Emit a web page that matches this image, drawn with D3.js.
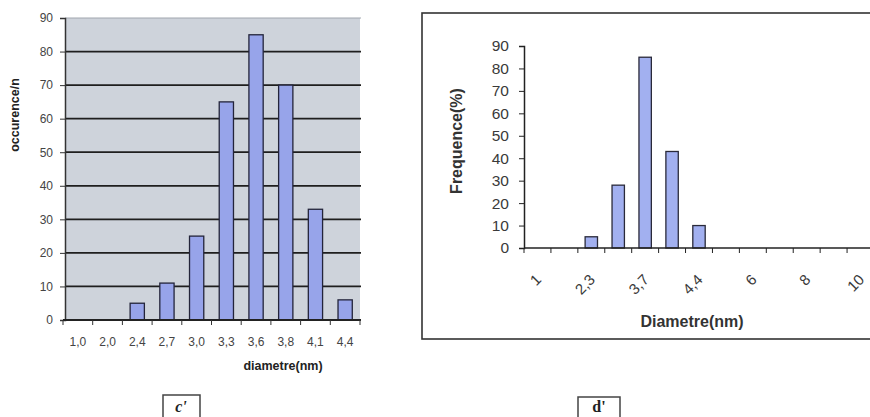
<!DOCTYPE html>
<html>
<head>
<meta charset="utf-8">
<script src="https://cdn.jsdelivr.net/npm/d3@7"></script>
<style>
  body { margin: 0; background: #fff; }
  svg { display: block; font-family: "Liberation Sans", Arial, sans-serif; }
</style>
</head>
<body>
<svg id="fig" width="870" height="417"></svg>
<script>
// left chart (c')
const leftCats = ["1,0", "2,0", "2,4", "2,7", "3,0", "3,3", "3,6", "3,8", "4,1", "4,4"];
const leftVals = [0, 0, 5, 11, 25, 65, 85, 70, 33, 6];
const leftTicks = [0, 10, 20, 30, 40, 50, 60, 70, 80, 90];

// right chart (d')
const rightCats = ["1", "2", "2,3", "3", "3,7", "4", "4,4", "5", "6", "7", "8", "9", "10"];
const rightVals = [0, 0, 5, 28, 85, 43, 10, 0, 0, 0, 0, 0, 0];
const rightTicks = [0, 10, 20, 30, 40, 50, 60, 70, 80, 90];
const rightShown = ["1", "2,3", "3,7", "4,4", "6", "8", "10"];

const svg = d3.select("#fig");

const buildLeft = () => {
    let g = svg.append("g");
    let x = d3.scaleBand().domain(leftCats).range([63, 360])
                .paddingInner(0.52).paddingOuter(0.26);
    let y = d3.scaleLinear().domain([0, 90]).range([320, 18]);

    g.append("rect")
        .attr("x", 65).attr("y", y(90))
        .attr("width", 360 - 65).attr("height", y(0) - y(90))
        .attr("fill", "#ced3db");

    // gridlines
    g.selectAll(".grid").data(leftTicks.filter(d => d > 0))
        .enter().append("line")
        .attr("x1", 65).attr("x2", 361)
        .attr("y1", d => y(d)).attr("y2", d => y(d))
        .attr("stroke", d => d == 90 ? "#a0a6ae" : "#1e1e1e")
        .attr("stroke-width", d => d == 90 ? 1 : 1.8);

    g.selectAll(".bar").data(leftVals)
        .enter().append("rect")
        .attr("x", (d, i) => x(leftCats[i]))
        .attr("y", d => y(d))
        .attr("width", x.bandwidth())
        .attr("height", d => y(0) - y(d))
        .attr("fill", "#97a4ea")
        .attr("stroke", "#23243a")
        .attr("stroke-width", 1.3);

    let yAxis = d3.axisLeft(y).tickValues(leftTicks).tickSize(5).tickPadding(7);
    g.append("g").attr("transform", "translate(65,0)").call(yAxis)
        .call(a => a.select(".domain").attr("stroke", "#333").attr("stroke-width", 1.5))
        .call(a => a.selectAll("line").attr("stroke", "#333"))
        .call(a => a.selectAll("text").attr("font-size", 12).attr("fill", "#444")
                    .attr("font-family", "Liberation Sans, Arial, sans-serif"));

    // x axis with ticks between categories
    let half = x.step() * x.paddingInner() / 2;
    let bounds = leftCats.map(c => x(c) - half).concat([x(leftCats[leftCats.length - 1]) + x.bandwidth() + half]);
    g.append("line").attr("x1", 63).attr("x2", 361)
        .attr("y1", y(0)).attr("y2", y(0))
        .attr("stroke", "#222").attr("stroke-width", 1.8);
    g.selectAll(".xt").data(bounds).enter().append("line")
        .attr("x1", d => d).attr("x2", d => d)
        .attr("y1", y(0)).attr("y2", y(0) + 5)
        .attr("stroke", "#333");
    g.selectAll(".xl").data(leftCats).enter().append("text")
        .attr("x", d => x(d) + x.bandwidth() / 2)
        .attr("y", 346)
        .attr("text-anchor", "middle")
        .attr("font-size", 12).attr("fill", "#444")
        .text(d => d);

    g.append("text")
        .attr("x", 283).attr("y", 370)
        .attr("text-anchor", "middle")
        .attr("font-size", 12.5).attr("font-weight", "bold").attr("fill", "#222")
        .text("diametre(nm)");

    g.append("text")
        .attr("transform", "translate(19,115) rotate(-90)")
        .attr("text-anchor", "middle")
        .attr("font-size", 12.5).attr("font-weight", "bold").attr("fill", "#222")
        .text("occurence/n");
}

const buildRight = () => {
    let g = svg.append("g");
    g.append("rect")
        .attr("x", 422).attr("y", 13)
        .attr("width", 470).attr("height", 326)
        .attr("fill", "#fff").attr("stroke", "#333").attr("stroke-width", 1.6);

    let x = d3.scaleBand().domain(rightCats).range([524, 874])
                .paddingInner(0.54).paddingOuter(0.27);
    let y = d3.scaleLinear().domain([0, 90]).range([248, 46]);

    g.selectAll(".bar").data(rightCats.filter((c, i) => rightVals[i] > 0))
        .enter().append("rect")
        .attr("x", c => x(c))
        .attr("y", c => y(rightVals[rightCats.indexOf(c)]))
        .attr("width", x.bandwidth())
        .attr("height", c => y(0) - y(rightVals[rightCats.indexOf(c)]))
        .attr("fill", "#a2b0f0")
        .attr("stroke", "#2a2a3a")
        .attr("stroke-width", 1.3);

    let yAxis = d3.axisLeft(y).tickValues(rightTicks).tickSize(5).tickPadding(10);
    g.append("g").attr("transform", "translate(524,0)").call(yAxis)
        .call(a => a.select(".domain").attr("stroke", "#222").attr("stroke-width", 1.5))
        .call(a => a.selectAll("line").attr("stroke", "#222"))
        .call(a => a.selectAll("text").attr("font-size", 15.5).attr("fill", "#3a3a3a")
                    .attr("font-family", "Liberation Sans, Arial, sans-serif"));

    let half = x.step() * x.paddingInner() / 2;
    let bounds = rightCats.map(c => x(c) - half);
    g.append("line").attr("x1", 524).attr("x2", 872)
        .attr("y1", y(0)).attr("y2", y(0))
        .attr("stroke", "#222").attr("stroke-width", 1.6);
    g.selectAll(".xt").data(bounds).enter().append("line")
        .attr("x1", d => d).attr("x2", d => d)
        .attr("y1", y(0)).attr("y2", y(0) + 5)
        .attr("stroke", "#222");
    g.selectAll(".xl").data(rightShown).enter().append("text")
        .attr("transform", d => "translate(" + (x(d) + x.bandwidth() / 2 + 1) + ",277) rotate(-45)")
        .attr("text-anchor", "end")
        .attr("dy", "0.35em")
        .attr("font-size", 15).attr("fill", "#3a3a3a")
        .text(d => d);

    g.append("text")
        .attr("x", 692).attr("y", 327)
        .attr("text-anchor", "middle")
        .attr("font-size", 16).attr("font-weight", "bold").attr("fill", "#333")
        .text("Diametre(nm)");

    g.append("text")
        .attr("transform", "translate(462,141) rotate(-90)")
        .attr("text-anchor", "middle")
        .attr("font-size", 16).attr("font-weight", "bold").attr("fill", "#333")
        .text("Frequence(%)");
}

const buildLabels = () => {
    svg.append("rect").attr("x", 163).attr("y", 395).attr("width", 37).attr("height", 30)
        .attr("fill", "none").attr("stroke", "#444").attr("stroke-width", 1.5);
    svg.append("text").attr("x", 181).attr("y", 412).attr("text-anchor", "middle")
        .attr("font-family", "Liberation Serif, serif").attr("font-weight", "bold")
        .attr("font-style", "italic").attr("font-size", 16).attr("fill", "#222")
        .text("c'");
    svg.append("rect").attr("x", 578).attr("y", 397).attr("width", 42).attr("height", 30)
        .attr("fill", "none").attr("stroke", "#444").attr("stroke-width", 1.5);
    svg.append("text").attr("x", 599).attr("y", 412).attr("text-anchor", "middle")
        .attr("font-family", "Liberation Serif, serif").attr("font-weight", "bold")
        .attr("font-size", 16).attr("fill", "#222")
        .text("d'");
}

buildLeft();
buildRight();
buildLabels();
</script>
</body>
</html>
